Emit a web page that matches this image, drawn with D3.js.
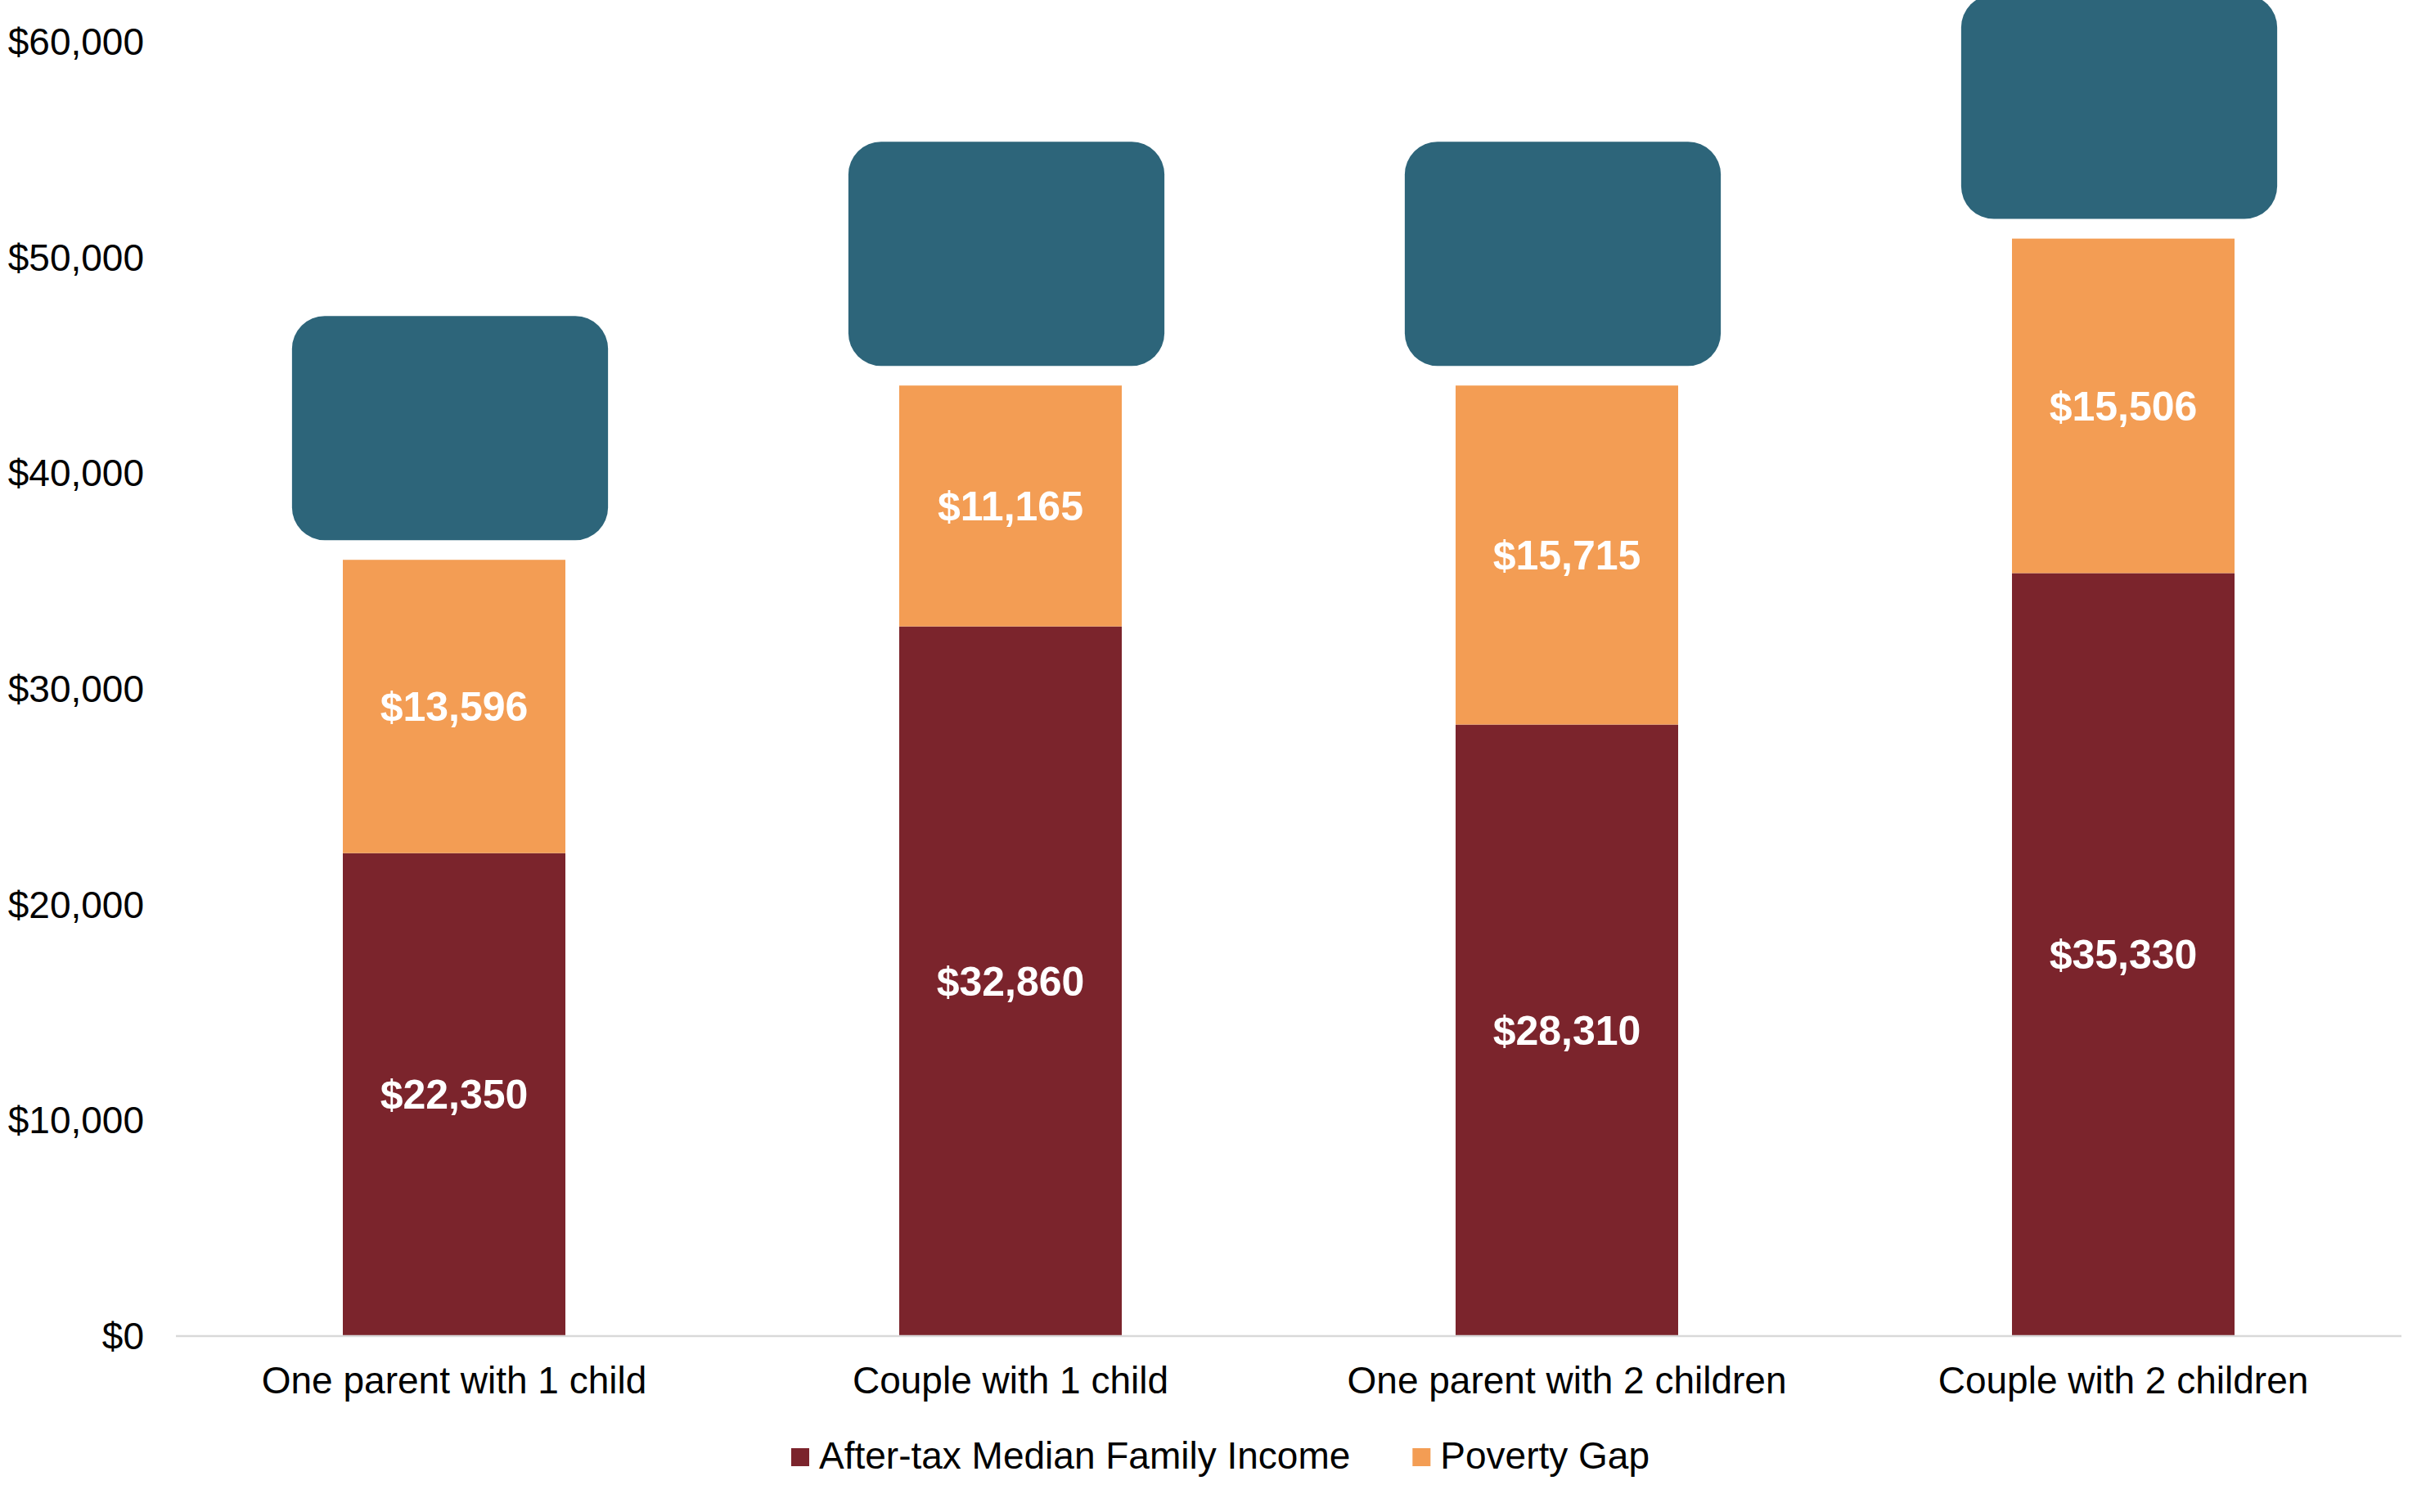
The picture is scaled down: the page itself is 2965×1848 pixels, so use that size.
<!DOCTYPE html>
<html>
<head>
<meta charset="utf-8">
<script src="https://cdn.jsdelivr.net/npm/d3@7/dist/d3.min.js"></script>
<style>
  html, body { margin: 0; padding: 0; background: #ffffff; }
  svg { display: block; }
  text { font-family: "Liberation Sans", Arial, Helvetica, sans-serif; }
</style>
</head>
<body>
<svg id="chart" width="2965" height="1848"></svg>
<script>
// ---- data ----
const categories = ["One parent with 1 child", "Couple with 1 child", "One parent with 2 children", "Couple with 2 children"];
const seriesNames = ["After-tax Median Family Income", "Poverty Gap"];
const incomeValues = [22350, 32860, 28310, 35330];
const povertyGapValues = [13596, 11165, 15715, 15506];
const yTickValues = [0, 10000, 20000, 30000, 40000, 50000, 60000];
const seriesColors = ["#7b242c", "#f39d54"];
const boxColor = "#2d657a";

// ---- layout ----
const W = 2965, H = 1848;
const plotLeft = 215, plotRight = 2935, plotTop = 50, plotBottom = 1632;

const svg = d3.select("#chart");
svg.append("rect").attr("width", W).attr("height", H).attr("fill", "#ffffff");

const x = d3.scaleBand()
  .domain(categories)
  .range([plotLeft, plotRight])
  .paddingInner(0.6)
  .paddingOuter(0.3);

const y = d3.scaleLinear()
  .domain([0, 60000])
  .range([plotBottom, plotTop]);

const table = categories.map((c, i) => ({
  category: c,
  income: incomeValues[i],
  gap: povertyGapValues[i]
}));
const keys = ["income", "gap"];
const stacked = d3.stack().keys(keys)(table);

// ---- y axis (labels only) ----
const yAxis = d3.axisLeft(y)
  .tickValues(yTickValues)
  .tickSize(0)
  .tickPadding(0)
  .tickFormat(d => "$" + d3.format(",")(d));
const yg = svg.append("g")
  .attr("transform", `translate(176,0)`)
  .call(yAxis);
yg.select(".domain").remove();
yg.selectAll("text")
  .attr("font-size", 46)
  .attr("fill", "#000000")
  .attr("font-family", "'Liberation Sans', Arial, sans-serif")
  .attr("dy", "0.36em")
  .attr("x", 0);

// ---- bars ----
const layers = svg.append("g").selectAll("g")
  .data(stacked)
  .join("g")
  .attr("fill", (d, i) => seriesColors[i]);

layers.selectAll("rect")
  .data(d => d)
  .join("rect")
  .attr("x", d => x(d.data.category))
  .attr("width", x.bandwidth())
  .attr("y", d => y(d[1]))
  .attr("height", d => y(d[0]) - y(d[1]));

// ---- value labels ----
layers.selectAll("text")
  .data(d => d)
  .join("text")
  .attr("x", d => x(d.data.category) + x.bandwidth() / 2)
  .attr("y", d => y((d[0] + d[1]) / 2))
  .attr("dy", "0.36em")
  .attr("text-anchor", "middle")
  .attr("font-size", 50)
  .attr("font-weight", "bold")
  .attr("fill", "#ffffff")
  .text(d => "$" + d3.format(",")(d[1] - d[0]));

// ---- rounded callout boxes above each stack ----
const boxW = x.step() * 0.568, boxH = 274, boxGap = 24, boxRx = 40, boxShift = -5;
svg.append("g").selectAll("rect")
  .data(table)
  .join("rect")
  .attr("x", d => x(d.category) + x.bandwidth() / 2 - boxW / 2 + boxShift)
  .attr("y", d => y(d.income + d.gap) - boxGap - boxH)
  .attr("width", boxW)
  .attr("height", boxH)
  .attr("rx", boxRx)
  .attr("ry", boxRx)
  .attr("fill", boxColor);

// ---- x axis ----
const xAxis = d3.axisBottom(x).tickSize(0).tickPadding(0);
const xg = svg.append("g")
  .attr("transform", `translate(0,${plotBottom + 1})`)
  .call(xAxis);
xg.select(".domain")
  .attr("stroke", "#d9d9d9")
  .attr("stroke-width", 2.5)
  .attr("d", `M${plotLeft},0H${plotRight}`);
xg.selectAll("text")
  .attr("font-size", 46)
  .attr("fill", "#000000")
  .attr("font-family", "'Liberation Sans', Arial, sans-serif")
  .attr("y", 1703 - (plotBottom + 1))
  .attr("dy", 0);

// ---- legend ----
const legend = svg.append("g").attr("transform", "translate(967,0)");
let lx = 0;
seriesNames.forEach((name, i) => {
  const g = legend.append("g").attr("transform", `translate(${lx},0)`);
  g.append("rect")
    .attr("x", 0).attr("y", 1770)
    .attr("width", 22).attr("height", 22)
    .attr("fill", seriesColors[i]);
  const t = g.append("text")
    .attr("x", 34).attr("y", 1795)
    .attr("font-size", 46)
    .attr("fill", "#000000")
    .text(name);
  lx += 34 + t.node().getComputedTextLength() + 76;
});
</script>
</body>
</html>
